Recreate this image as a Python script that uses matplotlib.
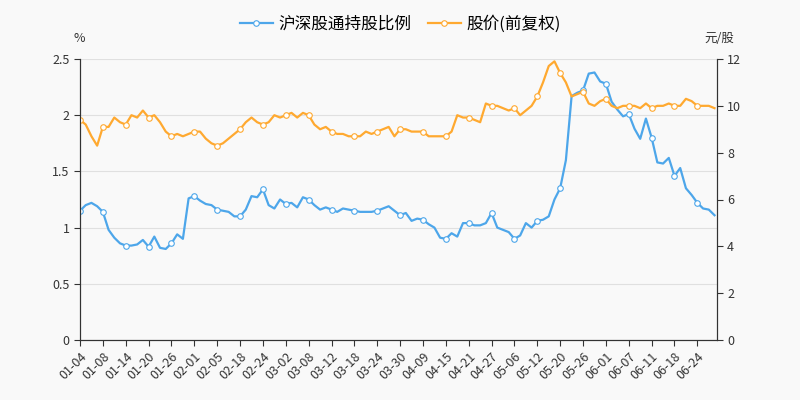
import matplotlib
matplotlib.use('Agg')
import matplotlib.pyplot as plt
import numpy as np

plt.rcParams['font.family'] = ['Noto Sans CJK SC', 'DejaVu Sans']

tick_labels = ['01-04','01-08','01-14','01-20','01-26','02-01','02-05','02-18','02-24','03-02',
               '03-08','03-12','03-18','03-24','03-30','04-09','04-15','04-21','04-27','05-06',
               '05-12','05-20','05-26','06-01','06-07','06-11','06-18','06-24']
ratio = [1.15,1.2,1.22,1.19,1.14,0.98,0.91,0.86,0.84,0.84,0.85,0.89,0.83,0.92,0.82,0.81,
         0.86,0.94,0.9,1.26,1.28,1.24,1.21,1.2,1.16,1.15,1.14,1.1,1.1,1.16,1.28,1.27,
         1.34,1.2,1.17,1.25,1.21,1.22,1.18,1.27,1.25,1.2,1.16,1.18,1.16,1.14,1.17,1.16,
         1.15,1.14,1.14,1.14,1.15,1.17,1.19,1.15,1.11,1.13,1.06,1.08,1.07,1.03,1.0,0.91,
         0.9,0.95,0.92,1.04,1.04,1.02,1.02,1.04,1.13,1.0,0.98,0.96,0.9,0.93,1.04,1.0,
         1.06,1.07,1.1,1.25,1.35,1.6,2.17,2.2,2.22,2.37,2.38,2.3,2.28,2.12,2.05,1.99,
         2.01,1.88,1.79,1.97,1.8,1.58,1.57,1.62,1.46,1.53,1.35,1.29,1.22,1.17,1.16,1.11]
price = [9.4,9.2,8.7,8.3,9.1,9.1,9.5,9.3,9.2,9.6,9.5,9.8,9.5,9.6,9.3,8.9,8.7,8.8,8.7,8.8,
         8.9,8.9,8.6,8.4,8.3,8.4,8.6,8.8,9.0,9.3,9.5,9.3,9.2,9.3,9.6,9.5,9.6,9.7,9.5,9.7,
         9.6,9.2,9.0,9.1,8.9,8.8,8.8,8.7,8.7,8.7,8.9,8.8,8.9,9.0,9.1,8.7,9.0,9.0,8.9,8.9,
         8.9,8.7,8.7,8.7,8.7,8.9,9.6,9.5,9.5,9.4,9.3,10.1,10.0,10.0,9.9,9.8,9.9,9.6,9.8,10.0,
         10.4,11.0,11.7,11.9,11.4,11.0,10.4,10.5,10.6,10.1,10.0,10.2,10.3,10.0,9.9,10.0,
         10.0,10.0,9.9,10.1,9.9,10.0,10.0,10.1,10.0,10.0,10.3,10.2,10.0,10.0,10.0,9.9]

bg = '#f9f9f9'
blue = '#4da6ea'
orange = '#ffa930'
x = np.arange(len(ratio))

fig = plt.figure(figsize=(8, 4), dpi=100, facecolor=bg)
ax = fig.add_axes([0.1, 0.15, 0.796, 0.7025])
ax.set_facecolor(bg)
ax2 = ax.twinx()

l1, = ax.plot(x, ratio, color=blue, lw=1.6, marker='o', markevery=4, ms=4,
              mfc='white', mec=blue, mew=0.8, label='沪深股通持股比例')
l2, = ax2.plot(x, price, color=orange, lw=1.6, marker='o', markevery=4, ms=4,
               mfc='white', mec=orange, mew=0.8, label='股价(前复权)')

ax.set_xlim(0, len(ratio) - 0.6)
ax.set_ylim(0, 2.5)
ax2.set_ylim(0, 12)
ax.set_yticks([0, 0.5, 1, 1.5, 2, 2.5])
ax.set_yticklabels(['0', '0.5', '1', '1.5', '2', '2.5'])
ax2.set_yticks(range(0, 13, 2))
ax.set_xticks(np.arange(len(tick_labels)) * 4)
ax.set_xticklabels(tick_labels, rotation=45, ha='right', rotation_mode='anchor')
ax.grid(axis='y', color='#e0e0e0', lw=0.8)
ax.set_axisbelow(True)

for a in (ax, ax2):
    a.tick_params(labelsize=9, colors='#333333', length=4)
    for s in a.spines.values():
        s.set_color('#333333')
    a.spines['top'].set_visible(False)

fig.text(0.092, 0.895, '%', fontsize=9, color='#333333')
fig.text(0.88, 0.895, '元/股', fontsize=9, color='#333333')
fig.legend(handles=[l1, l2], loc='upper center', bbox_to_anchor=(0.5, 1.0), ncol=2,
           frameon=False, fontsize=12, handlelength=2, columnspacing=1.0, handletextpad=0.3)

fig.savefig('out.png', dpi=100, facecolor=bg)
